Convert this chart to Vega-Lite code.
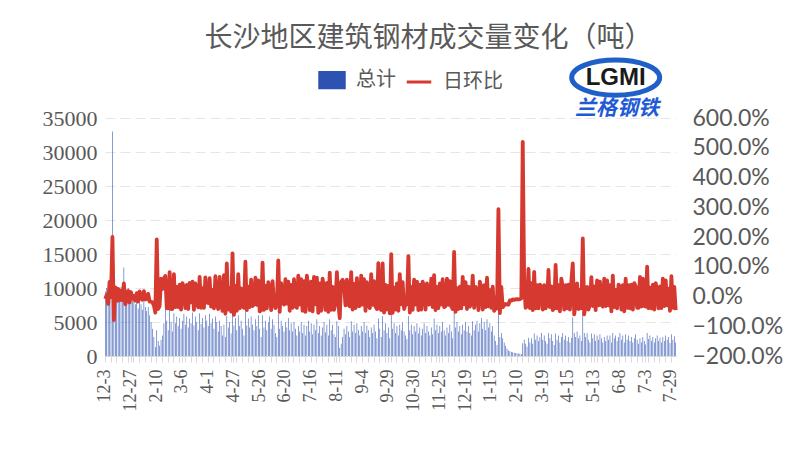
{
  "$schema": "https://vega.github.io/schema/vega-lite/v6.json",
  "autosize": {"type": "none"},
  "padding": {"left": 105, "top": 118, "right": 128, "bottom": 120},
  "width": 571,
  "height": 238,
  "background": "white",
  "title": {
    "text": "长沙地区建筑钢材成交量变化（吨）",
    "font": "Noto Sans CJK SC",
    "fontSize": 28,
    "fontWeight": "normal",
    "color": "#595959",
    "anchor": "middle",
    "frame": "group",
    "dx": 38,
    "offset": -3
  },
  "data": {"values": [
    {"i":0,"v":9500,"r":-0.08},{"i":1,"v":10000,"r":0.05},{"i":2,"v":7500,"r":-0.25},{"i":3,"v":11200,"r":0.49},{"i":4,"v":11000,"r":-0.02},
    {"i":5,"v":33000,"r":2.00},{"i":6,"v":7000,"r":-0.79},{"i":7,"v":9200,"r":0.31},{"i":8,"v":7800,"r":-0.15},{"i":9,"v":9800,"r":0.26},
    {"i":10,"v":8500,"r":-0.13},{"i":11,"v":10200,"r":0.20},{"i":12,"v":9000,"r":-0.12},{"i":13,"v":13000,"r":0.44},{"i":14,"v":9600,"r":-0.26},
    {"i":15,"v":8400,"r":-0.13},{"i":16,"v":10000,"r":0.19},{"i":17,"v":8000,"r":-0.20},{"i":18,"v":9200,"r":0.15},{"i":19,"v":8600,"r":-0.07},
    {"i":20,"v":8800,"r":0.02},{"i":21,"v":7600,"r":-0.14},{"i":22,"v":8400,"r":0.11},{"i":23,"v":7000,"r":-0.17},{"i":24,"v":8200,"r":0.17},
    {"i":25,"v":7600,"r":-0.07},{"i":26,"v":6800,"r":-0.11},{"i":27,"v":8000,"r":0.18},{"i":28,"v":7200,"r":-0.10},{"i":29,"v":6600,"r":-0.08},
    {"i":30,"v":7200,"r":0.09},{"i":31,"v":6000,"r":-0.17},{"i":32,"v":5000,"r":-0.17},{"i":33,"v":4000,"r":-0.20},{"i":34,"v":2800,"r":-0.30},
    {"i":35,"v":1300,"r":-0.54},{"i":36,"v":3800,"r":1.92},{"i":37,"v":2200,"r":-0.42},{"i":38,"v":1500,"r":-0.32},{"i":39,"v":2400,"r":0.60},
    {"i":40,"v":3000,"r":0.25},{"i":41,"v":4800,"r":0.60},{"i":42,"v":7000,"r":0.69},{"i":43,"v":5200,"r":-0.39},{"i":44,"v":3800,"r":-0.40},
    {"i":45,"v":6900,"r":0.82},{"i":46,"v":5000,"r":-0.42},{"i":47,"v":3600,"r":-0.42},{"i":48,"v":6300,"r":0.75},{"i":49,"v":4800,"r":-0.36},
    {"i":50,"v":5800,"r":0.32},{"i":51,"v":4400,"r":-0.36},{"i":52,"v":5600,"r":0.40},{"i":53,"v":4000,"r":-0.44},{"i":54,"v":5200,"r":0.45},
    {"i":55,"v":6200,"r":0.28},{"i":56,"v":4600,"r":-0.39},{"i":57,"v":5800,"r":0.39},{"i":58,"v":4200,"r":-0.42},{"i":59,"v":5500,"r":0.46},
    {"i":60,"v":4800,"r":-0.20},{"i":61,"v":6400,"r":0.50},{"i":62,"v":4500,"r":-0.45},{"i":63,"v":5800,"r":0.44},{"i":64,"v":5000,"r":-0.21},
    {"i":65,"v":3800,"r":-0.36},{"i":66,"v":6300,"r":0.66},{"i":67,"v":4700,"r":-0.38},{"i":68,"v":5600,"r":0.28},{"i":69,"v":4200,"r":-0.38},
    {"i":70,"v":6000,"r":0.64},{"i":71,"v":5200,"r":-0.20},{"i":72,"v":4400,"r":-0.22},{"i":73,"v":6200,"r":0.62},{"i":74,"v":4800,"r":-0.34},
    {"i":75,"v":5500,"r":0.22},{"i":76,"v":4000,"r":-0.40},{"i":77,"v":5800,"r":0.68},{"i":78,"v":5000,"r":-0.21},{"i":79,"v":3600,"r":-0.42},
    {"i":80,"v":5200,"r":0.66},{"i":81,"v":4400,"r":-0.22},{"i":82,"v":3000,"r":-0.48},{"i":83,"v":4600,"r":0.72},{"i":84,"v":2800,"r":-0.58},
    {"i":85,"v":5900,"r":1.11},{"i":86,"v":4200,"r":-0.44},{"i":87,"v":5000,"r":0.28},{"i":88,"v":3300,"r":-0.51},{"i":89,"v":8100,"r":1.45},
    {"i":90,"v":4500,"r":-0.62},{"i":91,"v":5600,"r":0.36},{"i":92,"v":3800,"r":-0.48},{"i":93,"v":6000,"r":0.75},{"i":94,"v":4400,"r":-0.40},
    {"i":95,"v":5200,"r":0.27},{"i":96,"v":4000,"r":-0.34},{"i":97,"v":3000,"r":-0.38},{"i":98,"v":6500,"r":1.17},{"i":99,"v":4500,"r":-0.46},
    {"i":100,"v":5500,"r":0.33},{"i":101,"v":4200,"r":-0.36},{"i":102,"v":5800,"r":0.57},{"i":103,"v":4600,"r":-0.32},{"i":104,"v":3800,"r":-0.26},
    {"i":105,"v":5400,"r":0.63},{"i":106,"v":4400,"r":-0.28},{"i":107,"v":6000,"r":0.54},{"i":108,"v":4000,"r":-0.50},{"i":109,"v":2800,"r":-0.45},
    {"i":110,"v":6000,"r":1.14},{"i":111,"v":4200,"r":-0.45},{"i":112,"v":5200,"r":0.36},{"i":113,"v":3800,"r":-0.40},{"i":114,"v":5000,"r":0.48},
    {"i":115,"v":5800,"r":0.24},{"i":116,"v":4000,"r":-0.46},{"i":117,"v":5400,"r":0.52},{"i":118,"v":4600,"r":-0.22},{"i":119,"v":3400,"r":-0.39},
    {"i":120,"v":2800,"r":-0.27},{"i":121,"v":6200,"r":1.21},{"i":122,"v":4000,"r":-0.52},{"i":123,"v":5200,"r":0.45},{"i":124,"v":4400,"r":-0.22},
    {"i":125,"v":3600,"r":-0.27},{"i":126,"v":5000,"r":0.58},{"i":127,"v":4200,"r":-0.24},{"i":128,"v":5600,"r":0.50},{"i":129,"v":3800,"r":-0.48},
    {"i":130,"v":4800,"r":0.39},{"i":131,"v":3600,"r":-0.38},{"i":132,"v":5000,"r":0.58},{"i":133,"v":4000,"r":-0.30},{"i":134,"v":3000,"r":-0.38},
    {"i":135,"v":4400,"r":0.70},{"i":136,"v":3600,"r":-0.27},{"i":137,"v":5000,"r":0.58},{"i":138,"v":3400,"r":-0.48},{"i":139,"v":4600,"r":0.52},
    {"i":140,"v":3000,"r":-0.52},{"i":141,"v":4400,"r":0.70},{"i":142,"v":5200,"r":0.27},{"i":143,"v":3600,"r":-0.46},{"i":144,"v":4800,"r":0.50},
    {"i":145,"v":3200,"r":-0.50},{"i":146,"v":4600,"r":0.66},{"i":147,"v":3800,"r":-0.26},{"i":148,"v":5400,"r":0.63},{"i":149,"v":3400,"r":-0.55},
    {"i":150,"v":4400,"r":0.44},{"i":151,"v":3000,"r":-0.48},{"i":152,"v":4200,"r":0.60},{"i":153,"v":5000,"r":0.28},{"i":154,"v":3500,"r":-0.45},
    {"i":155,"v":4600,"r":0.46},{"i":156,"v":3000,"r":-0.52},{"i":157,"v":5400,"r":0.80},{"i":158,"v":3800,"r":-0.45},{"i":159,"v":4600,"r":0.32},
    {"i":160,"v":3200,"r":-0.45},{"i":161,"v":2800,"r":-0.20},{"i":162,"v":5100,"r":0.82},{"i":163,"v":4400,"r":-0.21},{"i":164,"v":1200,"r":-0.73},
    {"i":165,"v":1800,"r":0.50},{"i":166,"v":2800,"r":0.56},{"i":167,"v":4000,"r":0.43},{"i":168,"v":3200,"r":-0.30},{"i":169,"v":4400,"r":0.57},
    {"i":170,"v":3600,"r":-0.27},{"i":171,"v":2800,"r":-0.33},{"i":172,"v":5100,"r":0.82},{"i":173,"v":3600,"r":-0.44},{"i":174,"v":4600,"r":0.42},
    {"i":175,"v":3400,"r":-0.39},{"i":176,"v":4800,"r":0.62},{"i":177,"v":3800,"r":-0.32},{"i":178,"v":3000,"r":-0.32},{"i":179,"v":4400,"r":0.70},
    {"i":180,"v":3600,"r":-0.27},{"i":181,"v":5000,"r":0.58},{"i":182,"v":3400,"r":-0.48},{"i":183,"v":4500,"r":0.48},{"i":184,"v":3800,"r":-0.24},
    {"i":185,"v":2800,"r":-0.39},{"i":186,"v":4200,"r":0.75},{"i":187,"v":3400,"r":-0.28},{"i":188,"v":4600,"r":0.52},{"i":189,"v":3600,"r":-0.33},
    {"i":190,"v":2600,"r":-0.42},{"i":191,"v":5500,"r":1.12},{"i":192,"v":4000,"r":-0.40},{"i":193,"v":2800,"r":-0.45},{"i":194,"v":5900,"r":1.11},
    {"i":195,"v":3800,"r":-0.54},{"i":196,"v":4800,"r":0.39},{"i":197,"v":3400,"r":-0.44},{"i":198,"v":4200,"r":0.36},{"i":199,"v":2600,"r":-0.57},
    {"i":200,"v":6300,"r":1.42},{"i":201,"v":4000,"r":-0.55},{"i":202,"v":4800,"r":0.30},{"i":203,"v":3400,"r":-0.44},{"i":204,"v":4400,"r":0.44},
    {"i":205,"v":3000,"r":-0.48},{"i":206,"v":4600,"r":0.75},{"i":207,"v":3800,"r":-0.26},{"i":208,"v":5000,"r":0.48},{"i":209,"v":3600,"r":-0.42},
    {"i":210,"v":3000,"r":-0.26},{"i":211,"v":2500,"r":-0.26},{"i":212,"v":5900,"r":1.36},{"i":213,"v":3800,"r":-0.54},{"i":214,"v":4600,"r":0.32},
    {"i":215,"v":3200,"r":-0.45},{"i":216,"v":4400,"r":0.57},{"i":217,"v":3600,"r":-0.27},{"i":218,"v":4800,"r":0.50},{"i":219,"v":3300,"r":-0.46},
    {"i":220,"v":4200,"r":0.40},{"i":221,"v":3000,"r":-0.44},{"i":222,"v":4000,"r":0.50},{"i":223,"v":4800,"r":0.30},{"i":224,"v":3400,"r":-0.44},
    {"i":225,"v":4400,"r":0.44},{"i":226,"v":3600,"r":-0.27},{"i":227,"v":3000,"r":-0.26},{"i":228,"v":4200,"r":0.60},{"i":229,"v":3200,"r":-0.36},
    {"i":230,"v":5500,"r":0.72},{"i":231,"v":3800,"r":-0.46},{"i":232,"v":4600,"r":0.32},{"i":233,"v":3400,"r":-0.39},{"i":234,"v":4400,"r":0.44},
    {"i":235,"v":3600,"r":-0.27},{"i":236,"v":5000,"r":0.58},{"i":237,"v":3800,"r":-0.36},{"i":238,"v":3000,"r":-0.32},{"i":239,"v":4200,"r":0.60},
    {"i":240,"v":3400,"r":-0.28},{"i":241,"v":4600,"r":0.52},{"i":242,"v":3600,"r":-0.33},{"i":243,"v":2600,"r":-0.42},{"i":244,"v":6500,"r":1.50},
    {"i":245,"v":4200,"r":-0.52},{"i":246,"v":5000,"r":0.28},{"i":247,"v":3600,"r":-0.42},{"i":248,"v":4400,"r":0.33},{"i":249,"v":3200,"r":-0.40},
    {"i":250,"v":4600,"r":0.66},{"i":251,"v":3800,"r":-0.26},{"i":252,"v":5000,"r":0.48},{"i":253,"v":3600,"r":-0.42},{"i":254,"v":4400,"r":0.33},
    {"i":255,"v":3400,"r":-0.34},{"i":256,"v":3000,"r":-0.18},{"i":257,"v":5100,"r":0.70},{"i":258,"v":3800,"r":-0.38},{"i":259,"v":4600,"r":0.32},
    {"i":260,"v":5200,"r":0.20},{"i":261,"v":3600,"r":-0.46},{"i":262,"v":4800,"r":0.50},{"i":263,"v":5600,"r":0.26},{"i":264,"v":4000,"r":-0.44},
    {"i":265,"v":5000,"r":0.38},{"i":266,"v":3800,"r":-0.36},{"i":267,"v":5400,"r":0.63},{"i":268,"v":4200,"r":-0.33},{"i":269,"v":4800,"r":0.21},
    {"i":270,"v":3600,"r":-0.38},{"i":271,"v":4400,"r":0.33},{"i":272,"v":3000,"r":-0.48},{"i":273,"v":2200,"r":-0.40},{"i":274,"v":1600,"r":-0.40},
    {"i":275,"v":6300,"r":2.94},{"i":276,"v":2800,"r":-0.56},{"i":277,"v":3400,"r":0.32},{"i":278,"v":2600,"r":-0.36},{"i":279,"v":2000,"r":-0.30},
    {"i":280,"v":1500,"r":-0.25},{"i":281,"v":1100,"r":-0.27},{"i":282,"v":800,"r":-0.27},{"i":283,"v":700,"r":-0.13},{"i":284,"v":600,"r":-0.14},
    {"i":285,"v":540,"r":-0.10},{"i":286,"v":480,"r":-0.11},{"i":287,"v":430,"r":-0.10},{"i":288,"v":390,"r":-0.09},{"i":289,"v":350,"r":-0.10},
    {"i":290,"v":320,"r":-0.09},{"i":291,"v":300,"r":-0.06},{"i":292,"v":1860,"r":5.20},{"i":293,"v":2400,"r":0.44},{"i":294,"v":1800,"r":-0.38},
    {"i":295,"v":1400,"r":-0.33},{"i":296,"v":2700,"r":0.93},{"i":297,"v":2000,"r":-0.39},{"i":298,"v":2600,"r":0.45},{"i":299,"v":1800,"r":-0.46},
    {"i":300,"v":3300,"r":0.83},{"i":301,"v":2400,"r":-0.40},{"i":302,"v":3000,"r":0.38},{"i":303,"v":2200,"r":-0.40},{"i":304,"v":2800,"r":0.40},
    {"i":305,"v":3400,"r":0.32},{"i":306,"v":2400,"r":-0.44},{"i":307,"v":3000,"r":0.38},{"i":308,"v":2200,"r":-0.40},{"i":309,"v":1800,"r":-0.27},
    {"i":310,"v":3400,"r":0.89},{"i":311,"v":2600,"r":-0.36},{"i":312,"v":3200,"r":0.34},{"i":313,"v":2200,"r":-0.46},{"i":314,"v":1600,"r":-0.40},
    {"i":315,"v":3300,"r":1.06},{"i":316,"v":2400,"r":-0.40},{"i":317,"v":3000,"r":0.38},{"i":318,"v":2000,"r":-0.50},{"i":319,"v":2800,"r":0.60},
    {"i":320,"v":3400,"r":0.32},{"i":321,"v":2400,"r":-0.44},{"i":322,"v":3000,"r":0.38},{"i":323,"v":2200,"r":-0.40},{"i":324,"v":2800,"r":0.40},
    {"i":325,"v":2000,"r":-0.44},{"i":326,"v":2700,"r":0.52},{"i":327,"v":5700,"r":1.11},{"i":328,"v":3400,"r":-0.60},{"i":329,"v":2800,"r":-0.27},
    {"i":330,"v":3600,"r":0.44},{"i":331,"v":2600,"r":-0.42},{"i":332,"v":3000,"r":0.22},{"i":333,"v":2200,"r":-0.40},{"i":334,"v":6500,"r":1.95},
    {"i":335,"v":3400,"r":-0.60},{"i":336,"v":2800,"r":-0.27},{"i":337,"v":3400,"r":0.32},{"i":338,"v":2400,"r":-0.44},{"i":339,"v":2000,"r":-0.26},
    {"i":340,"v":3300,"r":0.65},{"i":341,"v":2600,"r":-0.32},{"i":342,"v":3200,"r":0.34},{"i":343,"v":2200,"r":-0.46},{"i":344,"v":3000,"r":0.54},
    {"i":345,"v":2400,"r":-0.30},{"i":346,"v":3200,"r":0.50},{"i":347,"v":2600,"r":-0.28},{"i":348,"v":2000,"r":-0.34},{"i":349,"v":2800,"r":0.60},
    {"i":350,"v":2200,"r":-0.32},{"i":351,"v":3000,"r":0.54},{"i":352,"v":2400,"r":-0.30},{"i":353,"v":3000,"r":0.38},{"i":354,"v":2000,"r":-0.50},
    {"i":355,"v":3400,"r":0.70},{"i":356,"v":2600,"r":-0.36},{"i":357,"v":3000,"r":0.22},{"i":358,"v":2200,"r":-0.40},{"i":359,"v":2800,"r":0.40},
    {"i":360,"v":3400,"r":0.32},{"i":361,"v":2400,"r":-0.44},{"i":362,"v":3000,"r":0.38},{"i":363,"v":2000,"r":-0.50},{"i":364,"v":3200,"r":0.60},
    {"i":365,"v":2400,"r":-0.38},{"i":366,"v":3000,"r":0.38},{"i":367,"v":2200,"r":-0.40},{"i":368,"v":2800,"r":0.40},{"i":369,"v":2000,"r":-0.44},
    {"i":370,"v":2600,"r":0.45},{"i":371,"v":3200,"r":0.34},{"i":372,"v":2400,"r":-0.38},{"i":373,"v":1800,"r":-0.38},{"i":374,"v":2600,"r":0.66},
    {"i":375,"v":2000,"r":-0.34},{"i":376,"v":2800,"r":0.60},{"i":377,"v":2200,"r":-0.32},{"i":378,"v":1700,"r":-0.34},{"i":379,"v":3400,"r":1.00},
    {"i":380,"v":2500,"r":-0.39},{"i":381,"v":3000,"r":0.30},{"i":382,"v":2200,"r":-0.40},{"i":383,"v":2800,"r":0.40},{"i":384,"v":2000,"r":-0.44},
    {"i":385,"v":2600,"r":0.45},{"i":386,"v":3000,"r":0.22},{"i":387,"v":2200,"r":-0.40},{"i":388,"v":2700,"r":0.34},{"i":389,"v":2000,"r":-0.39},
    {"i":390,"v":2800,"r":0.60},{"i":391,"v":2200,"r":-0.32},{"i":392,"v":3000,"r":0.54},{"i":393,"v":2400,"r":-0.30},{"i":394,"v":2800,"r":0.26},
    {"i":395,"v":1900,"r":-0.48},{"i":396,"v":3200,"r":0.68},{"i":397,"v":2400,"r":-0.38},{"i":398,"v":2900,"r":0.32},{"i":399,"v":2000,"r":-0.46}
  ]},
  "layer": [
    {
      "mark": {"type": "bar"},
      "encoding": {
        "x": {
          "field": "i",
          "type": "ordinal",
          "scale": {"paddingInner": 0.6, "paddingOuter": 0},
          "axis": {
            "title": null,
            "values": [0,4,8,12,16,18,20,24,28,32,36,40,44,48,52,54,56,60,64,68,72,76,80,84,88,90,92,96,100,104,108,112,116,120,124,126,128,132,136,140,144,148,152,156,160,162,164,168,172,176,180,184,188,192,196,198,200,204,208,212,216,220,224,228,232,234,236,240,244,248,252,256,260,264,268,270,272,276,280,284,288,292,296,300,304,306,308,312,316,320,324,328,332,336,340,342,344,348,352,356,360,364,368,372,376,378,380,384,388,392,396],
            "labelExpr": "datum.value % 18 == 0 ? ['12-3','12-27','2-10','3-6','4-1','4-27','5-26','6-20','7-16','8-11','9-4','9-29','10-30','11-25','12-19','1-15','2-10','3-19','4-15','5-13','6-8','7-3','7-29'][datum.value / 18] : ''",
            "labelAngle": -90,
            "labelOverlap": false,
            "labelFont": "Liberation Serif",
            "labelFontSize": 18,
            "labelColor": "#595959",
            "labelPadding": 7,
            "domainColor": "#d9d9d9",
            "tickColor": "#d9d9d9",
            "tickSize": 6,
            "grid": false
          }
        },
        "y": {
          "field": "v",
          "type": "quantitative",
          "scale": {"domain": [0, 35000], "nice": false},
          "axis": {
            "title": null,
            "values": [0,5000,10000,15000,20000,25000,30000,35000],
            "format": "d",
            "labelOverlap": false,
            "domain": false,
            "ticks": false,
            "labelFont": "Liberation Serif",
            "labelFontSize": 22,
            "labelColor": "#595959",
            "labelPadding": 8,
            "grid": true,
            "gridColor": "#e6e6e6",
            "gridDash": [10, 5]
          }
        },
        "color": {
          "datum": "总计",
          "type": "nominal",
          "scale": {"domain": ["总计", "日环比"], "range": ["#2e52b2", "#d6392f"]},
          "legend": {
            "title": null,
            "orient": "none",
            "legendX": 213,
            "legendY": -52,
            "direction": "horizontal",
            "labelFont": "Noto Sans CJK SC",
            "labelFontSize": 20,
            "labelColor": "#595959",
            "labelOffset": 10,
            "columnPadding": 4,
            "symbolSize": 600,
            "symbolStrokeWidth": 3,
            "encode": {
              "symbols": {
                "update": {
                  "shape": {"signal": "datum.value == '总计' ? 'M-1,-0.62H1V0.62H-1Z' : 'stroke'"},
                  "fill": {"signal": "datum.value == '总计' ? '#2e52b2' : 'transparent'"},
                  "stroke": {"signal": "datum.value == '总计' ? 'transparent' : '#d6392f'"},
                  "strokeWidth": {"value": 3},
                  "opacity": {"value": 1}
                }
              }
            }
          }
        }
      }
    },
    {
      "layer": [
        {
          "mark": {"type": "line", "strokeWidth": 3.8, "strokeJoin": "round"},
          "encoding": {
            "x": {"field": "i", "type": "ordinal"},
            "y": {
              "field": "r",
              "type": "quantitative",
              "scale": {"domain": [-2, 6], "nice": false},
              "axis": {"title": null, "orient": "right", "values": [-2,-1,0,1,2,3,4,5,6], "format": ".1%", "labelOverlap": false, "domain": false, "ticks": false, "grid": false, "labelFont": "Lato", "labelFontSize": 23, "labelColor": "#595959", "labelPadding": 16}
            },
            "color": {"datum": "日环比", "type": "nominal"}
          }
        },
        {
          "data": {"values": [{"t": "logo"}]},
          "mark": {"type": "point", "shape": "M-1,0A1,0.4,0,1,1,1,0A1,0.4,0,1,1,-1,0Z", "size": 7744, "filled": false, "strokeWidth": 5, "color": "#1f5fc8", "opacity": 1},
          "encoding": {
            "x": {"datum": 357, "type": "ordinal"},
            "y": {
              "datum": 7.36,
              "type": "quantitative",
              "axis": {"title": null, "orient": "right", "values": [-2,-1,0,1,2,3,4,5,6], "format": ".1%", "labelOverlap": false, "domain": false, "ticks": false, "grid": false, "labelFont": "Lato", "labelFontSize": 23, "labelColor": "#595959", "labelPadding": 16}
            }
          }
        },
        {
          "data": {"values": [{"t": "LGMI"}]},
          "mark": {"type": "text", "font": "Liberation Sans", "fontSize": 24, "fontWeight": "bold", "color": "#1a1a1a", "baseline": "middle"},
          "encoding": {
            "x": {"datum": 357, "type": "ordinal"},
            "y": {
              "datum": 7.36,
              "type": "quantitative",
              "axis": {"title": null, "orient": "right", "values": [-2,-1,0,1,2,3,4,5,6], "format": ".1%", "labelOverlap": false, "domain": false, "ticks": false, "grid": false, "labelFont": "Lato", "labelFontSize": 23, "labelColor": "#595959", "labelPadding": 16}
            },
            "text": {"field": "t"}
          }
        },
        {
          "data": {"values": [{"t": "兰格钢铁"}]},
          "mark": {"type": "text", "font": "Noto Sans CJK SC", "fontSize": 21, "fontWeight": "bold", "fontStyle": "italic", "color": "#1f5bd6", "baseline": "middle"},
          "encoding": {
            "x": {"datum": 358, "type": "ordinal"},
            "y": {
              "datum": 6.3,
              "type": "quantitative",
              "axis": {"title": null, "orient": "right", "values": [-2,-1,0,1,2,3,4,5,6], "format": ".1%", "labelOverlap": false, "domain": false, "ticks": false, "grid": false, "labelFont": "Lato", "labelFontSize": 23, "labelColor": "#595959", "labelPadding": 16}
            },
            "text": {"field": "t"}
          }
        }
      ]
    }
  ],
  "resolve": {"scale": {"y": "independent"}},
  "config": {"view": {"stroke": null}}
}
